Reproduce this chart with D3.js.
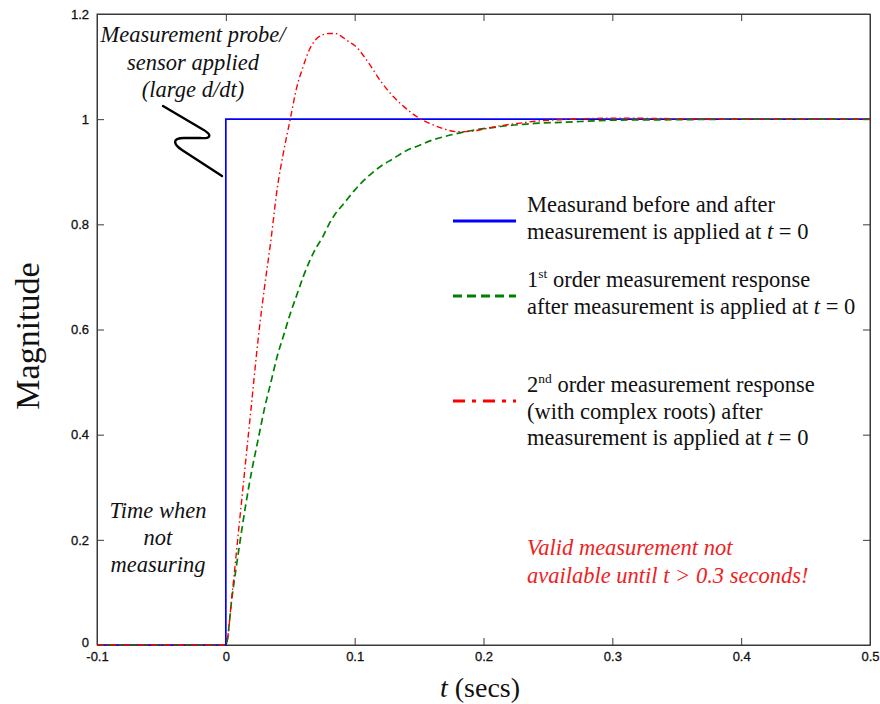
<!DOCTYPE html>
<html><head><meta charset="utf-8">
<script src="https://cdn.jsdelivr.net/npm/d3@7"></script>
<style>body{margin:0;background:#fff}</style>
</head><body><svg id="c" width="880" height="704"></svg>
<script>
// ---- data ----
const xTicks = [-0.1, 0, 0.1, 0.2, 0.3, 0.4, 0.5];
const xTickLabels = ["-0.1", "0", "0.1", "0.2", "0.3", "0.4", "0.5"];
const yTicks = [0, 0.2, 0.4, 0.6, 0.8, 1, 1.2];
const yTickLabels = ["0", "0.2", "0.4", "0.6", "0.8", "1", "1.2"];

const tStep = [-0.1, 0, 0, 0.5];
const vStep = [0, 0, 1, 1];

const tResp = [-0.1, 0, 0.005, 0.01, 0.015, 0.02, 0.025, 0.03, 0.035, 0.04, 0.045, 0.05,
  0.055, 0.06, 0.065, 0.07, 0.075, 0.08, 0.085, 0.09, 0.095, 0.1,
  0.11, 0.12, 0.13, 0.14, 0.15, 0.16, 0.17, 0.18, 0.19, 0.2, 0.21, 0.22, 0.23, 0.24,
  0.26, 0.28, 0.3, 0.35, 0.4, 0.45, 0.5];
const vFirst = [0, 0, 0.095, 0.18, 0.26, 0.33, 0.39, 0.45, 0.50, 0.55, 0.59, 0.63,
  0.665, 0.70, 0.73, 0.755, 0.775, 0.80, 0.82, 0.835, 0.85, 0.865,
  0.89, 0.91, 0.925, 0.94, 0.95, 0.96, 0.967, 0.973, 0.978, 0.982, 0.985, 0.988, 0.99, 0.992,
  0.994, 0.996, 0.998, 0.999, 1, 1, 1];
const vSecond = [0, 0, 0.10, 0.22, 0.34, 0.46, 0.58, 0.68, 0.77, 0.87, 0.94, 1.0,
  1.06, 1.10, 1.133, 1.152, 1.16, 1.163, 1.163, 1.157, 1.148, 1.14,
  1.11, 1.073, 1.043, 1.02, 1.002, 0.99, 0.981, 0.976, 0.977, 0.981, 0.986, 0.99, 0.993, 0.996,
  0.999, 1.001, 1.002, 1.001, 1, 1, 1];

// ---- layout ----
const svg = d3.select("#c");
const L = 97, R = 870, T = 14, B = 645;
const x = d3.scaleLinear().domain([-0.1, 0.5]).range([L, R]);
const y = d3.scaleLinear().domain([0, 1.2]).range([B, T]);
const serif = "'Liberation Serif','Times New Roman',serif";
const sans = "'Liberation Sans',Arial,sans-serif";
const axisCol = "#3a3a3a";

// frame
svg.append("rect").attr("x", L).attr("y", T).attr("width", R - L).attr("height", B - T)
  .attr("fill", "#fff").attr("stroke", axisCol).attr("stroke-width", 1);

// axes
const tickLen = 7;
const xb = svg.append("g").attr("transform", `translate(0,${B})`)
  .call(d3.axisBottom(x).tickValues(xTicks).tickFormat((d, i) => xTickLabels[i]).tickSizeInner(-tickLen).tickSizeOuter(0).tickPadding(7));
const xt = svg.append("g").attr("transform", `translate(0,${T})`)
  .call(d3.axisTop(x).tickValues(xTicks).tickFormat("").tickSizeInner(-tickLen).tickSizeOuter(0));
const yl = svg.append("g").attr("transform", `translate(${L},0)`)
  .call(d3.axisLeft(y).tickValues(yTicks).tickFormat((d, i) => yTickLabels[i]).tickSizeInner(-tickLen).tickSizeOuter(0).tickPadding(8));
const yr = svg.append("g").attr("transform", `translate(${R},0)`)
  .call(d3.axisRight(y).tickValues(yTicks).tickFormat("").tickSizeInner(-tickLen).tickSizeOuter(0));
[xb, xt, yl, yr].forEach(g => {
  g.select(".domain").attr("stroke", axisCol);
  g.selectAll(".tick line").attr("stroke", axisCol);
  g.selectAll("text").attr("font-family", sans).attr("font-size", 13).attr("fill", "#111")
    .attr("stroke", "#111").attr("stroke-width", 0.3);
});
// lift the "0" y label slightly so it does not collide with "-0.1"
yl.selectAll(".tick text").filter(d => d === 0).attr("dy", "0.1em");

// lines
const line = d3.line().x(d => x(d[0])).y(d => y(d[1]));
const smooth = d3.line().x(d => x(d[0])).y(d => y(d[1])).curve(d3.curveMonotoneX);
const plot = svg.append("g");
plot.append("path").datum(tStep.map((t, i) => [t, vStep[i]])).attr("d", line)
  .attr("fill", "none").attr("stroke", "#0000ff").attr("stroke-width", 1.7);
plot.append("path").datum(tResp.map((t, i) => [t, vFirst[i]])).attr("d", smooth)
  .attr("fill", "none").attr("stroke", "#008000").attr("stroke-width", 1.7)
  .attr("stroke-dasharray", "7,4");
plot.append("path").datum(tResp.map((t, i) => [t, vSecond[i]])).attr("d", smooth)
  .attr("fill", "none").attr("stroke", "#ff0000").attr("stroke-width", 1.4)
  .attr("stroke-dasharray", "6,3,1.5,3");

// legend
const lg = svg.append("g");
const legendItems = [
  { ly: 221, col: "#0000ff", dash: null, lines: [[["Measurand before and after"]], [["measurement is applied at "], ["t", "i"], [" = 0"]]], base: 212 },
  { ly: 296, col: "#008000", dash: "9,5", lines: [[["1"], ["st", "sup"], [" order measurement response"]], [["after measurement is applied at "], ["t", "i"], [" = 0"]]], base: 287 },
  { ly: 401, col: "#ff0000", dash: "12,7,4,7", lines: [[["2"], ["nd", "sup"], [" order measurement response"]], [["(with complex roots) after"]], [["measurement is applied at "], ["t", "i"], [" = 0"]]], base: 392 }
];
legendItems.forEach(it => {
  const ln = lg.append("line").attr("x1", 453).attr("x2", 516).attr("y1", it.ly).attr("y2", it.ly)
    .attr("stroke", it.col).attr("stroke-width", 3.2);
  if (it.dash) ln.attr("stroke-dasharray", it.dash);
  it.lines.forEach((parts, k) => {
    const tx = lg.append("text").attr("x", 527).attr("y", it.base + k * 26.5)
      .attr("font-family", serif).attr("font-size", 22.5).attr("fill", "#111");
    parts.forEach((p, j) => {
      const ts = tx.append("tspan").text(p[0]);
      if (p[1] === "i") ts.attr("font-style", "italic");
      if (p[1] === "sup") ts.attr("font-size", 13.5).attr("dy", -9);
      if (j > 0 && parts[j - 1][1] === "sup") ts.attr("dy", 9);
    });
  });
});

// annotations
function multi(lines, cx, y0, lh, opts) {
  const g = svg.append("g");
  lines.forEach((s, i) => {
    g.append("text").attr("x", cx).attr("y", y0 + i * lh).attr("text-anchor", opts.anchor || "middle")
      .attr("font-family", serif).attr("font-size", opts.size || 22.5).attr("font-style", "italic")
      .attr("fill", opts.fill || "#111").text(s);
  });
}
multi(["Measurement probe/", "sensor applied", "(large d/dt)"], 193, 42, 27.5, {});
multi(["Time when", "not", "measuring"], 158, 518, 27, {});
multi(["Valid measurement not", "available until t > 0.3 seconds!"], 527, 555, 28, { anchor: "start", fill: "#ee2222" });

// squiggle arrow
svg.append("path")
  .attr("d", "M163,106 L202,129 C213,135 211,139 200,138 L184,138 C172,138 173,144 182,150 L222,176")
  .attr("fill", "none").attr("stroke", "#000").attr("stroke-width", 2.4).attr("stroke-linecap", "round");

// axis titles
svg.append("text").attr("transform", "translate(39,336) rotate(-90)").attr("text-anchor", "middle")
  .attr("font-family", serif).attr("font-size", 34).attr("fill", "#111").text("Magnitude");
const xl = svg.append("text").attr("x", 480).attr("y", 697).attr("text-anchor", "middle")
  .attr("font-family", serif).attr("font-size", 28).attr("fill", "#111");
xl.append("tspan").attr("font-style", "italic").text("t");
xl.append("tspan").text(" (secs)");
</script>
</body></html>
